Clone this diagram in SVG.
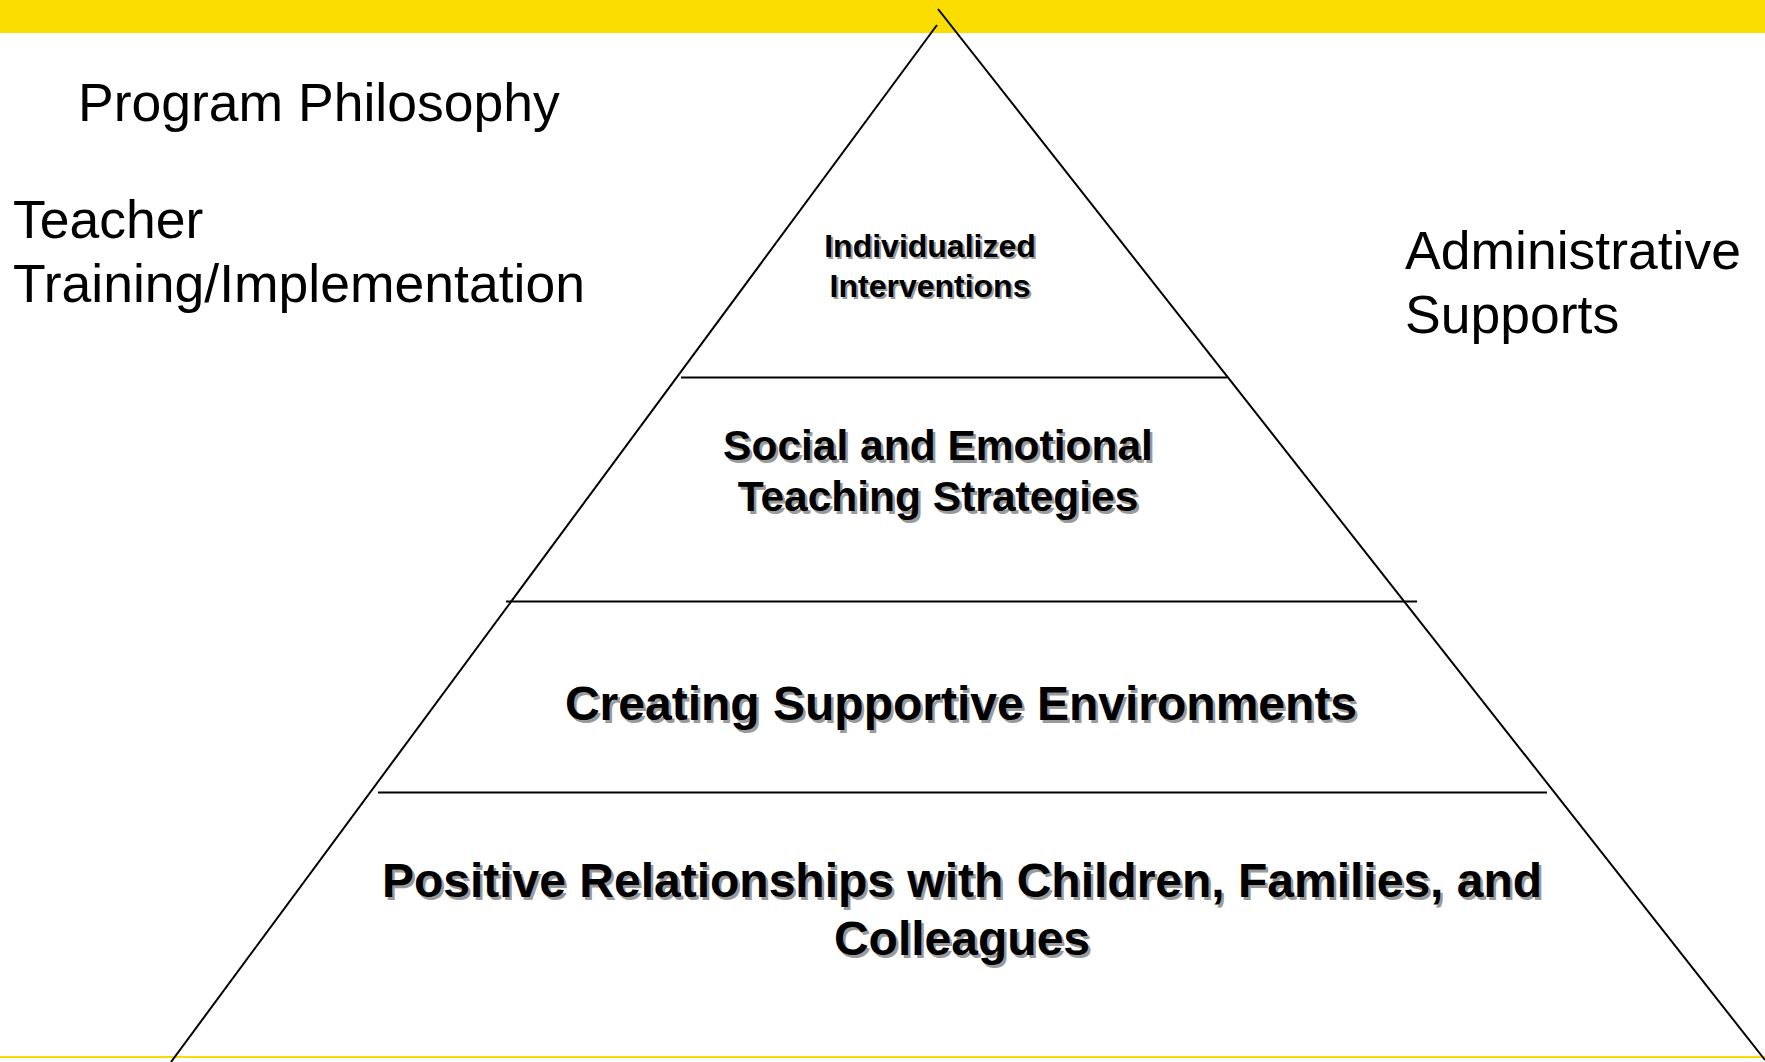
<svg xmlns="http://www.w3.org/2000/svg" width="1765" height="1062" viewBox="0 0 1765 1062">
<style>
.plain{font-family:"Liberation Sans",Arial,sans-serif;font-size:53.5px;fill:#000}
.bold{font-family:"Liberation Sans",Arial,sans-serif;font-weight:bold;text-anchor:middle}
.sh{fill:#9a9a9a}
.fg{fill:#000}
.ln{stroke:#000;stroke-width:2;fill:none}
</style>
<rect x="0" y="0" width="1765" height="1062" fill="#fff"/>
<rect x="0" y="0" width="1765" height="33" fill="#F9DC00"/>
<rect x="0" y="1056" width="1765" height="2" fill="#F9DC00"/>
<g id="connectors">
<line class="ln" x1="937" y1="25" x2="171" y2="1062"/>
<line class="ln" x1="938" y1="9" x2="1765" y2="1060"/>
<line class="ln" x1="681" y1="377.5" x2="1227" y2="377.5"/>
<line class="ln" x1="506" y1="601.5" x2="1417" y2="601.5"/>
<line class="ln" x1="378" y1="792.5" x2="1547" y2="792.5"/>
</g>
<g id="program-philosophy"><text class="plain" x="78" y="121">Program  Philosophy</text></g>
<g id="teacher-training"><text class="plain" x="13" y="238">Teacher</text><text class="plain" x="13" y="302">Training/Implementation</text></g>
<g id="administrative-supports"><text class="plain" x="1405" y="269">Administrative</text><text class="plain" x="1405" y="333">Supports</text></g>
<g id="individualized" class="bold" font-size="32">
<text class="sh" x="932" y="259">Individualized</text><text class="sh" x="932" y="299">Interventions</text>
<text class="fg" x="930" y="257">Individualized</text><text class="fg" x="930" y="297">Interventions</text>
</g>
<g id="social-emotional" class="bold" font-size="42.5">
<text class="sh" x="940.5" y="462.5">Social and Emotional</text><text class="sh" x="940.5" y="513.5">Teaching Strategies</text>
<text class="fg" x="938" y="460">Social and Emotional</text><text class="fg" x="938" y="511">Teaching Strategies</text>
</g>
<g id="supportive-environments" class="bold" font-size="48">
<text class="sh" x="963.5" y="722.5">Creating Supportive Environments</text>
<text class="fg" x="961" y="720">Creating Supportive Environments</text>
</g>
<g id="positive-relationships" class="bold" font-size="48">
<text class="sh" x="964.5" y="899.5">Positive Relationships with Children, Families, and</text><text class="sh" x="964.5" y="957.5">Colleagues</text>
<text class="fg" x="962" y="897">Positive Relationships with Children, Families, and</text><text class="fg" x="962" y="955">Colleagues</text>
</g>
</svg>
